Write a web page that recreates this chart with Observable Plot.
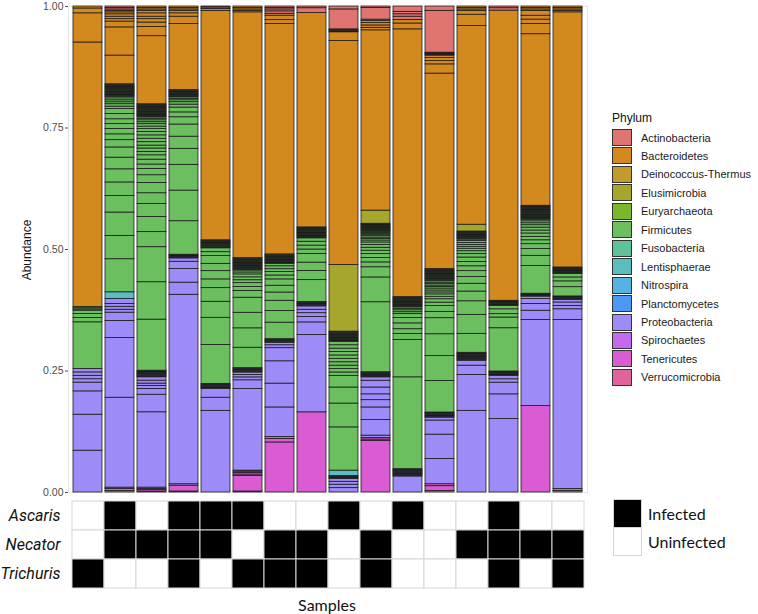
<!DOCTYPE html>
<html>
<head>
<meta charset="utf-8">
<script src="https://cdn.jsdelivr.net/npm/d3@7"></script>
<script src="https://cdn.jsdelivr.net/npm/@observablehq/plot@0.6"></script>
<style>
  html, body { margin: 0; padding: 0; background: #fff; }
  #wrap { position: relative; width: 758px; height: 614px; overflow: hidden; font-family: "Liberation Sans", Arial, sans-serif; }
  .abs { position: absolute; }
  .sw { position: absolute; width: 20px; height: 17px; border: 1px solid #333; box-sizing: border-box; }
  .lt { position: absolute; font-size: 11px; color: #1a1a1a; line-height: 18px; white-space: nowrap; }
  .calib { font-family: Lato, "Open Sans", sans-serif; color: #111; }
</style>
</head>
<body>
<div id="wrap"></div>
<script>
// ---------- data ----------
const samples = ["S1","S2","S3","S4","S5","S6","S7","S8","S9","S10","S11","S12","S13","S14","S15","S16"];
const phyla = ["Actinobacteria","Bacteroidetes","Deinococcus-Thermus","Elusimicrobia","Euryarchaeota","Firmicutes","Fusobacteria","Lentisphaerae","Nitrospira","Planctomycetes","Proteobacteria","Spirochaetes","Tenericutes","Verrucomicrobia"];
const phylumColors = ["#E07470","#D4891E","#C49A2C","#A5A62B","#7BB72A","#6BBF5F","#5FC197","#5ABEC0","#56B2E3","#4D97F5","#9D8BF8","#C46AEE","#DB5CD2","#E0639B"];

// OTU abundances per sample (bottom to top within each phylum)
const verrucomicrobia = [[],[0.003],[0.002],[0.002],[],[0.002],[],[],[],[],[],[0.003],[],[],[],[0.003]];
const tenericutes = [[],[0.004,0.003],[0.003,0.002],[0.012],[],[0.032,0.003,0.003],[0.103,0.007,0.004],[0.165],[],[0.106,0.003,0.003],[],[0.010,0.004],[],[],[0.178],[0.004]];
const spirochaetes = [[],[],[],[],[],[0.003,0.002],[],[],[],[],[],[],[],[],[],[]];
const proteobacteria = [
  [0.086,0.074,0.048,0.018,0.007,0.007,0.007,0.007],
  [0.185,0.123,0.035,0.017,0.006,0.006,0.006,0.010],
  [0.003,0.155,0.036,0.012,0.006,0.005,0.006,0.007,0.0015,0.0015,0.0015,0.0015,0.0015,0.0015,0.0015,0.0015,0.0015],
  [0.003,0.390,0.025,0.028,0.015,0.007,0.0015,0.0015,0.0015,0.0015,0.0015],
  [0.168,0.027,0.018,0.0015,0.0015,0.0015,0.0015,0.0015,0.0015,0.0015],
  [0.168,0.018,0.006,0.005,0.005,0.0015,0.0015,0.0015,0.0015,0.0015,0.0015],
  [0.061,0.049,0.046,0.027,0.006,0.005,0.0015,0.0015,0.0015,0.0015,0.0015],
  [0.159,0.026,0.011,0.008,0.007,0.007,0.0015,0.0015,0.0015,0.0015,0.0015,0.0015],
  [0.009,0.007,0.006,0.006,0.0015,0.0015,0.0015,0.0015],
  [0.005,0.032,0.026,0.015,0.012,0.014,0.014,0.007,0.0015,0.0015,0.0015,0.0015,0.0015,0.0015,0.0015],
  [0.033,0.0015,0.0015,0.0015,0.0015,0.0015,0.0015,0.0015,0.0015,0.0015,0.0015],
  [0.052,0.050,0.029,0.006,0.0015,0.0015,0.0015,0.0015,0.0015,0.0015,0.0015],
  [0.168,0.074,0.019,0.010,0.0015,0.0015,0.0015,0.0015,0.0015,0.0015,0.0015,0.0015,0.0015,0.0015,0.0015],
  [0.151,0.051,0.024,0.007,0.007,0.0015,0.0015,0.0015,0.0015,0.0015,0.0015],
  [0.177,0.019,0.014,0.010,0.005,0.0015,0.0015,0.0015,0.0015],
  [0.348,0.022,0.007,0.007,0.005,0.0015,0.0015,0.0015,0.0015,0.0015]
];
const lentisphaerae = [[],[0.014],[],[],[],[],[],[],[0.011],[],[],[],[],[],[],[]];
const firmicutes = [
  [0.096,0.009,0.008,0.007,0.0025,0.0025,0.0025],
  [0.068,0.048,0.048,0.034,0.028,0.027,0.024,0.021,0.015,0.012,0.011,0.010,0.010,0.011,0.010,0.005,0.005,0.004,0.004,0.004,0.003,0.002,0.0015,0.0015,0.0015,0.0015,0.0015,0.0015,0.0015,0.0015,0.0015,0.0015,0.0015,0.0015,0.0015,0.0015,0.0015,0.0015],
  [0.105,0.077,0.072,0.031,0.031,0.027,0.022,0.021,0.016,0.013,0.009,0.010,0.009,0.007,0.007,0.006,0.007,0.007,0.007,0.007,0.006,0.005,0.005,0.004,0.004,0.003,0.003,0.0015,0.0015,0.0015,0.0015,0.0015,0.0015,0.0015,0.0015,0.0015,0.0015,0.0015,0.0015,0.0015,0.0015,0.0015,0.0015,0.0015,0.0015],
  [0.069,0.063,0.053,0.033,0.025,0.025,0.015,0.010,0.010,0.006,0.005,0.004,0.003,0.003,0.0015,0.0015,0.0015,0.0015,0.0015,0.0015,0.0015,0.0015,0.0015,0.0015],
  [0.080,0.056,0.033,0.028,0.018,0.017,0.015,0.016,0.008,0.008,0.0015,0.0015,0.0015,0.0015,0.0015,0.0015,0.0015,0.0015,0.0015,0.0015,0.0015],
  [0.042,0.040,0.032,0.031,0.014,0.008,0.008,0.006,0.006,0.006,0.004,0.004,0.0015,0.0015,0.0015,0.0015,0.0015,0.0015,0.0015,0.0015,0.0015,0.0015,0.0015,0.0015,0.0015,0.0015,0.0015,0.0015,0.0015],
  [0.034,0.024,0.021,0.017,0.014,0.013,0.008,0.007,0.006,0.006,0.005,0.0015,0.0015,0.0015,0.0015,0.0015,0.0015,0.0015,0.0015,0.0015,0.0015,0.0015,0.0015,0.0015],
  [0.045,0.019,0.017,0.018,0.009,0.008,0.008,0.007,0.0015,0.0015,0.0015,0.0015,0.0015,0.0015,0.0015,0.0015,0.0015,0.0015,0.0015,0.0015,0.0015,0.0015,0.0015],
  [0.089,0.049,0.033,0.024,0.007,0.007,0.007,0.007,0.007,0.007,0.007,0.007,0.007,0.007,0.0015,0.0015,0.0015,0.0015,0.0015,0.0015,0.0015,0.0015,0.0015,0.0015,0.0015,0.0015,0.0015,0.0015],
  [0.144,0.051,0.021,0.010,0.009,0.008,0.007,0.006,0.006,0.005,0.004,0.003,0.003,0.003,0.003,0.002,0.002,0.002,0.0015,0.0015,0.0015,0.0015,0.0015,0.0015,0.0015,0.0015,0.0015,0.0015,0.0015],
  [0.189,0.077,0.012,0.010,0.012,0.011,0.008,0.004,0.004,0.003,0.003,0.0015,0.0015,0.0015,0.0015,0.0015,0.0015,0.0015,0.0015,0.0015,0.0015,0.0015,0.0015,0.0015,0.0015],
  [0.065,0.051,0.045,0.033,0.013,0.012,0.007,0.007,0.005,0.005,0.004,0.004,0.004,0.003,0.003,0.003,0.003,0.003,0.002,0.002,0.0015,0.0015,0.0015,0.0015,0.0015,0.0015,0.0015,0.0015,0.0015,0.0015,0.0015,0.0015,0.0015,0.0015],
  [0.039,0.039,0.028,0.020,0.016,0.014,0.012,0.010,0.009,0.009,0.007,0.006,0.005,0.004,0.004,0.004,0.004,0.003,0.0015,0.0015,0.0015,0.0015,0.0015,0.0015,0.0015,0.0015,0.0015,0.0015,0.0015],
  [0.089,0.022,0.007,0.010,0.007,0.0015,0.0015,0.0015,0.0015,0.0015,0.0015,0.0015],
  [0.057,0.021,0.014,0.010,0.008,0.007,0.007,0.006,0.006,0.005,0.004,0.004,0.003,0.002,0.0015,0.0015,0.0015,0.0015,0.0015,0.0015,0.0015,0.0015,0.0015,0.0015,0.0015,0.0015,0.0015,0.0015,0.0015,0.0015,0.0015,0.0015],
  [0.019,0.012,0.008,0.007,0.0015,0.0015,0.0015,0.0015,0.0015,0.0015,0.0015,0.0015,0.0015]
];
const elusimicrobia = [[],[],[],[],[],[],[],[],[0.137],[0.027],[],[],[0.014],[],[],[]];
const bacteroidetes = [
  [0.544,0.060,0.010,0.004],
  [0.059,0.058,0.012,0.005,0.005,0.005,0.004],
  [0.140,0.019,0.009,0.007,0.005,0.007,0.005,0.003,0.003,0.003],
  [0.136,0.015,0.007,0.005,0.003,0.003,0.003],
  [0.472,0.004],
  [0.506,0.003,0.003,0.003,0.003],
  [0.474,0.008,0.009,0.004],
  [0.441],
  [0.461,0.018,0.0015,0.0015,0.0015,0.0015],
  [0.371,0.005,0.005,0.005,0.004,0.003],
  [0.551,0.012,0.007],
  [0.402,0.019,0.007,0.006,0.005],
  [0.409,0.023,0.008,0.003,0.003,0.003],
  [0.597],
  [0.353,0.021,0.009,0.008,0.010,0.003,0.003,0.003],
  [0.525,0.003,0.003,0.003,0.003]
];
const actinobacteria = [[],[0.003,0.003,0.003,0.003],[],[],[0.003,0.002],[],[0.005,0.004,0.003,0.003],[0.010,0.0035],[0.041,0.006],[0.024,0.003],[0.007,0.005,0.005,0.011],[0.0015,0.0015,0.0015,0.0015,0.086,0.009],[],[0.005,0.0035],[],[]];

const parasites = ["Ascaris","Necator","Trichuris"];
const ascaris   = [0,1,0,1,1,1,0,0,1,0,1,0,0,1,0,0];
const necator   = [0,1,1,1,1,0,1,1,0,1,0,0,1,1,1,1];
const trichuris = [1,0,0,1,0,1,1,1,0,1,0,0,0,1,0,1];
const yTicks = [0, 0.25, 0.5, 0.75, 1];
const yTickLabels = ["0.00","0.25","0.50","0.75","1.00"];

// ---------- build tables ----------
const stackOrder = [
  ["Verrucomicrobia", verrucomicrobia], ["Tenericutes", tenericutes], ["Spirochaetes", spirochaetes],
  ["Proteobacteria", proteobacteria], ["Lentisphaerae", lentisphaerae], ["Firmicutes", firmicutes],
  ["Elusimicrobia", elusimicrobia], ["Bacteroidetes", bacteroidetes], ["Actinobacteria", actinobacteria]
];
const rows = [];
samples.forEach((s, i) => {
  for (const [p, arr] of stackOrder) for (const v of arr[i]) rows.push({sample: s, phylum: p, value: v});
});
const cells = [];
[ascaris, necator, trichuris].forEach((arr, j) => arr.forEach((v, i) => cells.push({sample: samples[i], parasite: parasites[j], infected: v})));

const wrap = document.getElementById("wrap");

// ---------- main stacked bar chart ----------
const main = Plot.plot({
  width: 758, height: 500,
  marginLeft: 68, marginRight: 171, marginTop: 6, marginBottom: 8,
  style: {fontFamily: "Liberation Sans, Arial, sans-serif", background: "transparent"},
  x: {domain: samples, padding: 0.1, axis: null},
  y: {domain: [0, 1]},
  color: {domain: phyla, range: phylumColors},
  marks: [
    Plot.frame({stroke: "#e6e6e6"}),
    Plot.barY(rows, Plot.stackY({offset: "normalize", order: null}, {x: "sample", y: "value", fill: "phylum", stroke: "#1c1c1c", strokeWidth: 0.8})),
    Plot.axisY({ticks: yTicks, tickFormat: (d) => yTickLabels[yTicks.indexOf(d)], tickSize: 3, tickPadding: 2, fontSize: 10.5, color: "#4d4d4d", label: null})
  ]
});
main.style.position = "absolute"; main.style.left = "0px"; main.style.top = "0px";
wrap.appendChild(main);

// y-axis title
const yt = document.createElement("div");
yt.className = "abs";
yt.textContent = "Abundance";
yt.style.cssText = "position:absolute;left:27px;top:250px;transform:translate(-50%,-50%) rotate(-90deg);font-size:12px;color:#111;white-space:nowrap;";
wrap.appendChild(yt);

// ---------- infection grid ----------
const grid = Plot.plot({
  width: 758, height: 100,
  marginLeft: 68, marginRight: 171, marginTop: 6, marginBottom: 7,
  style: {fontFamily: "Roboto, 'Open Sans', sans-serif", fontStyle: "italic", fontWeight: "400", fontSize: "16px", background: "transparent", color: "#111"},
  x: {domain: samples, padding: 0, axis: null},
  y: {domain: parasites, padding: 0},
  marks: [
    Plot.cell(cells, {x: "sample", y: "parasite", fill: (d) => d.infected ? "#000" : "#fff", stroke: "#d6d6d6", strokeWidth: 1}),
    Plot.axisY({tickSize: 0, tickPadding: 8, label: null, fontSize: 16})
  ]
});
grid.style.position = "absolute"; grid.style.left = "0px"; grid.style.top = "495px";
wrap.appendChild(grid);

// Samples label
const xs = document.createElement("div");
xs.className = "abs calib";
xs.textContent = "Samples";
xs.style.cssText += "left:327px;top:604px;transform:translate(-50%,-50%);font-size:16px;white-space:nowrap;";
wrap.appendChild(xs);

// infection legend
const infLegend = [["Infected", "#000", 499], ["Uninfected", "#fff", 527]];
for (const [lab, col, top] of infLegend) {
  const b = document.createElement("div");
  b.style.cssText = `position:absolute;left:613px;top:${top}px;width:29px;height:29px;background:${col};border:1px solid #d6d6d6;box-sizing:border-box;`;
  wrap.appendChild(b);
  const t = document.createElement("div");
  t.className = "abs calib";
  t.textContent = lab;
  t.style.cssText += `left:648px;top:${top + 14}px;transform:translateY(-50%);font-size:16px;white-space:nowrap;`;
  wrap.appendChild(t);
}

// phylum legend
const lh = document.createElement("div");
lh.className = "abs";
lh.textContent = "Phylum";
lh.style.cssText += "left:612px;top:118px;transform:translateY(-50%);font-size:12px;color:#111;";
wrap.appendChild(lh);
phyla.forEach((p, i) => {
  const top = 129 + i * 18.45;
  const s = document.createElement("div");
  s.className = "sw";
  s.style.left = "612px"; s.style.top = top + "px"; s.style.background = phylumColors[i];
  wrap.appendChild(s);
  const t = document.createElement("div");
  t.className = "lt";
  t.textContent = p;
  t.style.left = "641px"; t.style.top = (top - 0.5) + "px";
  wrap.appendChild(t);
});
</script>
</body>
</html>
